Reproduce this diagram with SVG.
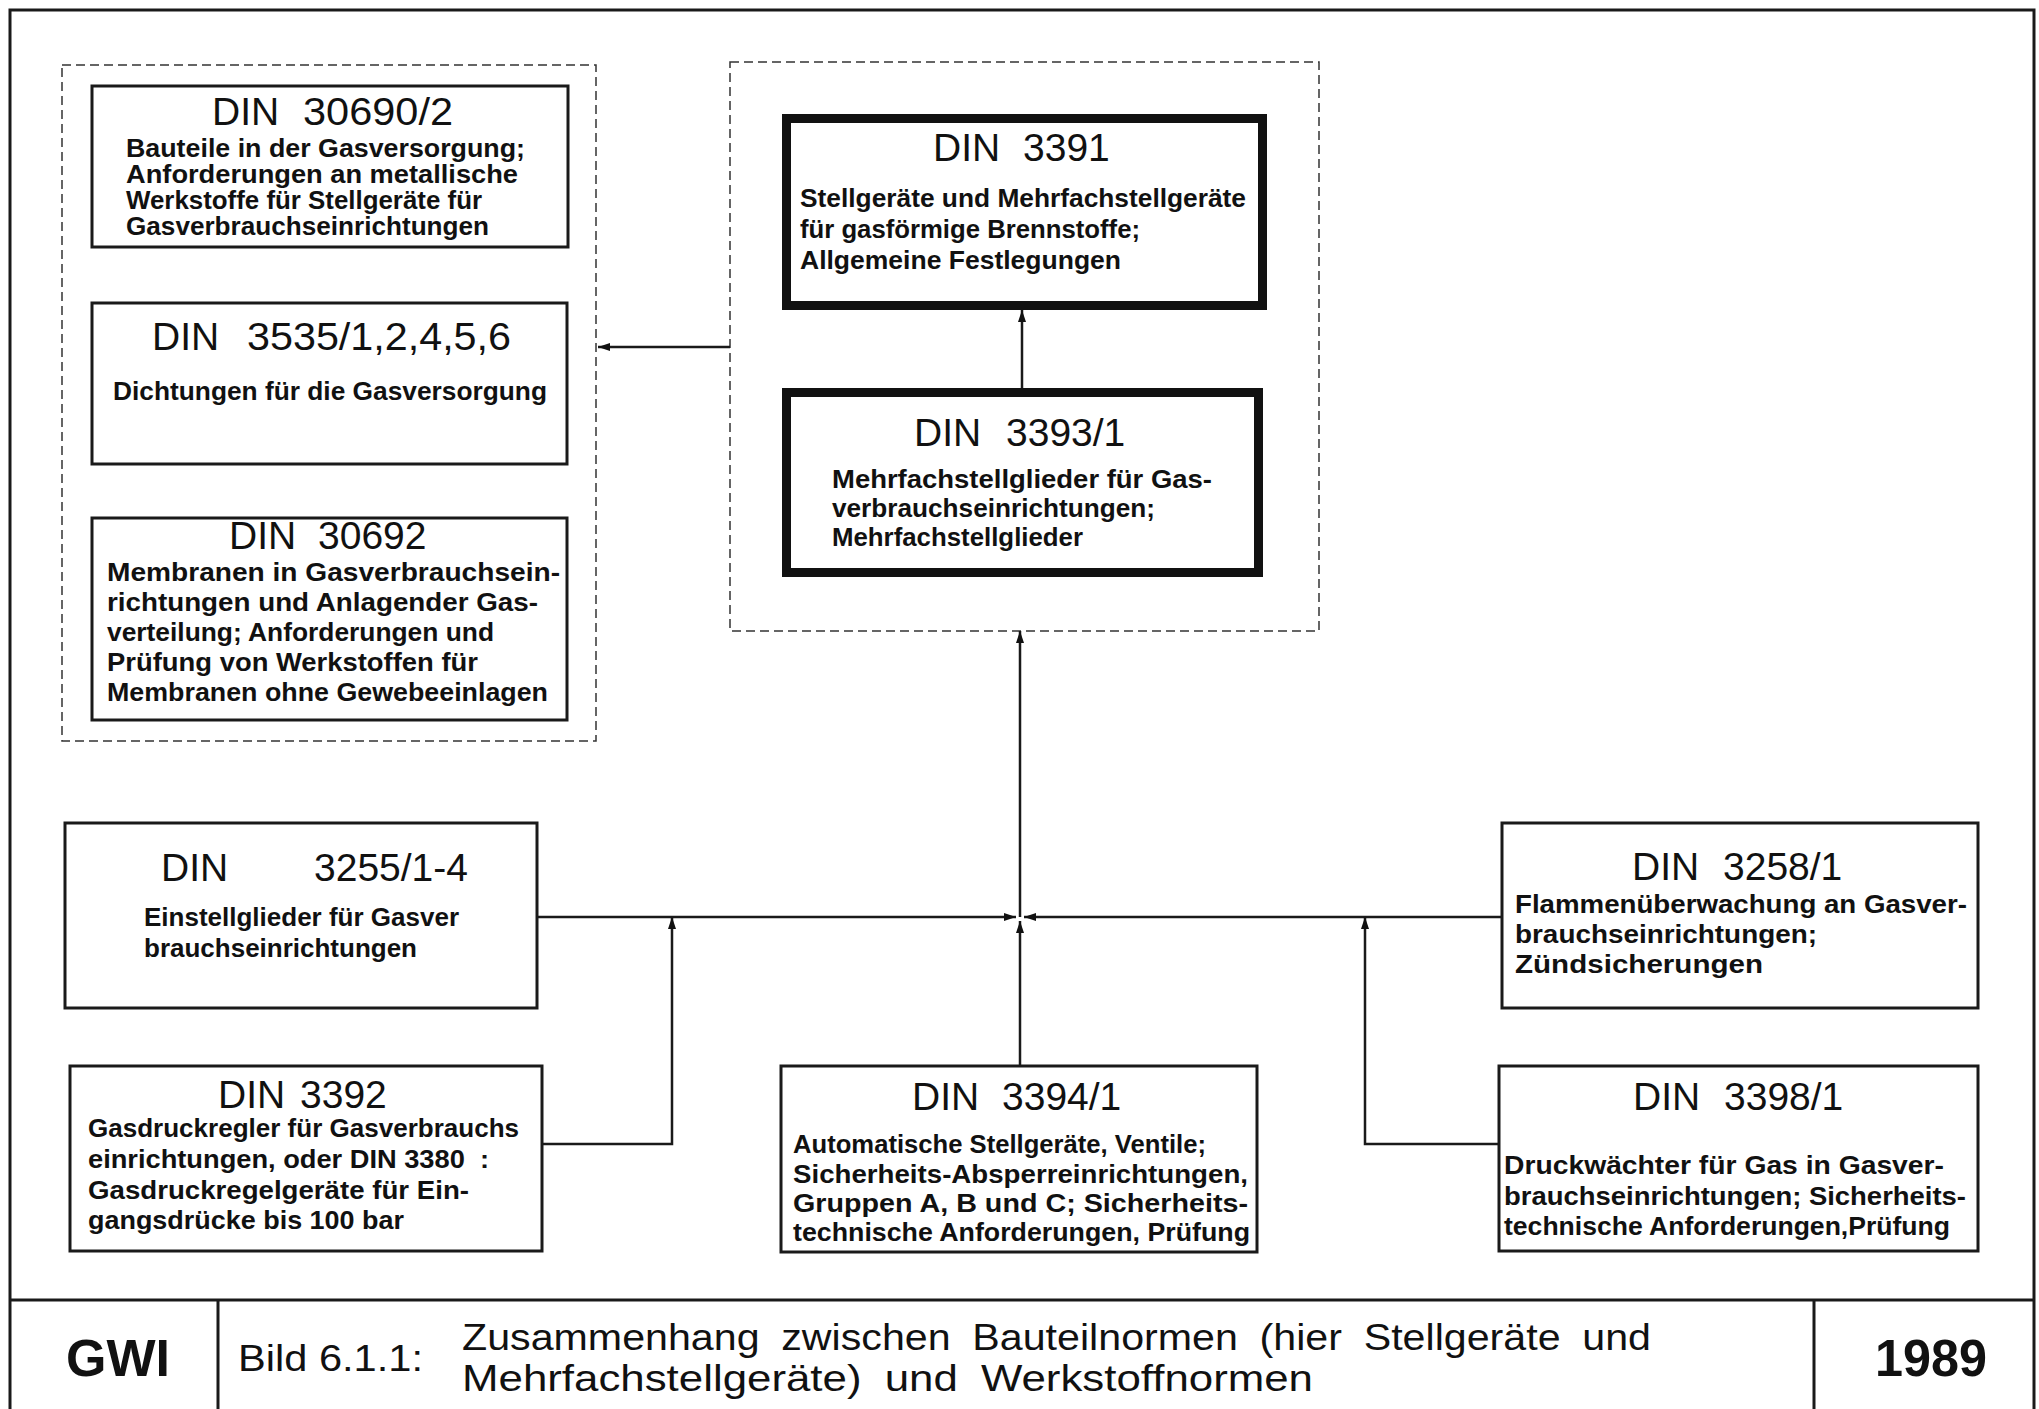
<svg xmlns="http://www.w3.org/2000/svg" width="2039" height="1409" viewBox="0 0 2039 1409">
<defs>
<style>
.frame{fill:none;stroke:#1a1a1a;stroke-width:3}
.box{fill:#fff;stroke:#1a1a1a;stroke-width:3}
.thick{fill:#fff;stroke:#111;stroke-width:9}
.grp{fill:none;stroke:#333;stroke-width:1.5;stroke-dasharray:9 5}
.con{fill:none;stroke:#1a1a1a;stroke-width:2.5}
.t{font-family:"Liberation Sans",Arial,sans-serif;font-size:39px;fill:#111}
.b{font-family:"Liberation Sans",Arial,sans-serif;font-weight:700;font-size:25px;fill:#111}
.b2{font-family:"Liberation Sans",Arial,sans-serif;font-weight:700;font-size:26px;fill:#111}
.cap{font-family:"Liberation Sans",Arial,sans-serif;font-size:36px;fill:#111}
.big{font-family:"Liberation Sans",Arial,sans-serif;font-weight:700;font-size:52px;fill:#111}
</style>
<marker id="ah" viewBox="0 0 12 8" refX="12" refY="4" markerWidth="12" markerHeight="8" markerUnits="userSpaceOnUse" orient="auto">
<path d="M0,0 L12,4 L0,8 Z" fill="#111"/>
</marker>
</defs>
<rect width="2039" height="1409" fill="#fff"/>

<g id="frame">
<path class="frame" d="M10,1409 V10 H2034 V1409"/>
<path class="frame" d="M10,1300 H2034 M218,1300 V1409 M1814,1300 V1409"/>
</g>

<g id="footer">
<text class="big" x="66" y="1376" textLength="104" lengthAdjust="spacingAndGlyphs">GWI</text>
<text class="cap" x="238" y="1371" textLength="185" lengthAdjust="spacingAndGlyphs">Bild 6.1.1:</text>
<text class="cap" x="462" y="1350" word-spacing="9" textLength="1189" lengthAdjust="spacingAndGlyphs">Zusammenhang zwischen Bauteilnormen (hier Stellgeräte und</text>
<text class="cap" x="462" y="1391" word-spacing="9" textLength="851" lengthAdjust="spacingAndGlyphs">Mehrfachstellgeräte) und Werkstoffnormen</text>
<text class="big" x="1875" y="1376" textLength="112" lengthAdjust="spacingAndGlyphs">1989</text>
</g>

<g id="group-werkstoffnormen">
<rect class="grp" x="62" y="65" width="534" height="676"/>
</g>
<g id="group-bauteilnormen">
<rect class="grp" x="730" y="62" width="589" height="569"/>
</g>

<g id="connectors">
<path class="con" d="M730,347 H598" marker-end="url(#ah)"/>
<path class="con" d="M1022,388 V310" marker-end="url(#ah)"/>
<path class="con" d="M1020,917 V631" marker-end="url(#ah)"/>
<path class="con" d="M537,917 H1016" marker-end="url(#ah)"/>
<path class="con" d="M1502,917 H1024" marker-end="url(#ah)"/>
<path class="con" d="M1020,1066 V921" marker-end="url(#ah)"/>
<path class="con" d="M542,1144 H672 V917" marker-end="url(#ah)"/>
<path class="con" d="M1499,1144 H1365 V917" marker-end="url(#ah)"/>
</g>

<g id="din30690-2">
<rect class="box" x="92" y="86" width="476" height="161"/>
<text class="t" x="212" y="125">DIN <tspan x="303" textLength="150" lengthAdjust="spacingAndGlyphs">30690/2</tspan></text>
<text class="b" x="126" y="157" textLength="399" lengthAdjust="spacingAndGlyphs">Bauteile in der Gasversorgung;</text>
<text class="b" x="126" y="183" textLength="392" lengthAdjust="spacingAndGlyphs">Anforderungen an metallische</text>
<text class="b" x="126" y="209" textLength="356" lengthAdjust="spacingAndGlyphs">Werkstoffe für Stellgeräte für</text>
<text class="b" x="126" y="235" textLength="363" lengthAdjust="spacingAndGlyphs">Gasverbrauchseinrichtungen</text>
</g>

<g id="din3535">
<rect class="box" x="92" y="303" width="475" height="161"/>
<text class="t" x="152" y="350">DIN <tspan x="247" textLength="264" lengthAdjust="spacingAndGlyphs">3535/1,2,4,5,6</tspan></text>
<text class="b2" x="113" y="400" textLength="434" lengthAdjust="spacingAndGlyphs">Dichtungen für die Gasversorgung</text>
</g>

<g id="din30692">
<rect class="box" x="92" y="518" width="475" height="202"/>
<text class="t" x="229" y="549">DIN <tspan x="318">30692</tspan></text>
<text class="b2" x="107" y="581" textLength="453" lengthAdjust="spacingAndGlyphs">Membranen in Gasverbrauchsein-</text>
<text class="b2" x="107" y="611" textLength="431" lengthAdjust="spacingAndGlyphs">richtungen und Anlagender Gas-</text>
<text class="b2" x="107" y="641" textLength="387" lengthAdjust="spacingAndGlyphs">verteilung; Anforderungen und</text>
<text class="b2" x="107" y="671" textLength="371" lengthAdjust="spacingAndGlyphs">Prüfung von Werkstoffen für</text>
<text class="b2" x="107" y="701" textLength="441" lengthAdjust="spacingAndGlyphs">Membranen ohne Gewebeeinlagen</text>
</g>

<g id="din3391">
<rect class="thick" x="786.5" y="118.5" width="476" height="187"/>
<text class="t" x="933" y="161">DIN <tspan x="1023">3391</tspan></text>
<text class="b2" x="800" y="207" textLength="446" lengthAdjust="spacingAndGlyphs">Stellgeräte und Mehrfachstellgeräte</text>
<text class="b2" x="800" y="238" textLength="340" lengthAdjust="spacingAndGlyphs">für gasförmige Brennstoffe;</text>
<text class="b2" x="800" y="269" textLength="321" lengthAdjust="spacingAndGlyphs">Allgemeine Festlegungen</text>
</g>

<g id="din3393-1">
<rect class="thick" x="786.5" y="392.5" width="472" height="180"/>
<text class="t" x="914" y="446">DIN <tspan x="1006">3393/1</tspan></text>
<text class="b2" x="832" y="488" textLength="380" lengthAdjust="spacingAndGlyphs">Mehrfachstellglieder für Gas-</text>
<text class="b2" x="832" y="517" textLength="323" lengthAdjust="spacingAndGlyphs">verbrauchseinrichtungen;</text>
<text class="b2" x="832" y="546" textLength="251" lengthAdjust="spacingAndGlyphs">Mehrfachstellglieder</text>
</g>

<g id="din3255">
<rect class="box" x="65" y="823" width="472" height="185"/>
<text class="t" x="161" y="881">DIN <tspan x="314">3255/1-4</tspan></text>
<text class="b2" x="144" y="926" textLength="315" lengthAdjust="spacingAndGlyphs">Einstellglieder für Gasver</text>
<text class="b2" x="144" y="957" textLength="273" lengthAdjust="spacingAndGlyphs">brauchseinrichtungen</text>
</g>

<g id="din3392">
<rect class="box" x="70" y="1066" width="472" height="185"/>
<text class="t" x="218" y="1108">DIN <tspan x="300">3392</tspan></text>
<text class="b2" x="88" y="1137" textLength="431" lengthAdjust="spacingAndGlyphs">Gasdruckregler für Gasverbrauchs</text>
<text class="b2" x="88" y="1168" textLength="401" lengthAdjust="spacingAndGlyphs" xml:space="preserve">einrichtungen, oder DIN 3380  :</text>
<text class="b2" x="88" y="1199" textLength="381" lengthAdjust="spacingAndGlyphs">Gasdruckregelgeräte für Ein-</text>
<text class="b2" x="88" y="1229" textLength="316" lengthAdjust="spacingAndGlyphs">gangsdrücke bis 100 bar</text>
</g>

<g id="din3394-1">
<rect class="box" x="781" y="1066" width="476" height="186"/>
<text class="t" x="912" y="1110">DIN <tspan x="1002">3394/1</tspan></text>
<text class="b2" x="793" y="1153" textLength="413" lengthAdjust="spacingAndGlyphs">Automatische Stellgeräte, Ventile;</text>
<text class="b2" x="793" y="1183" textLength="455" lengthAdjust="spacingAndGlyphs">Sicherheits-Absperreinrichtungen,</text>
<text class="b2" x="793" y="1212" textLength="455" lengthAdjust="spacingAndGlyphs">Gruppen A, B und C; Sicherheits-</text>
<text class="b2" x="793" y="1241" textLength="457" lengthAdjust="spacingAndGlyphs">technische Anforderungen, Prüfung</text>
</g>

<g id="din3258-1">
<rect class="box" x="1502" y="823" width="476" height="185"/>
<text class="t" x="1632" y="880">DIN <tspan x="1723">3258/1</tspan></text>
<text class="b2" x="1515" y="913" textLength="452" lengthAdjust="spacingAndGlyphs">Flammenüberwachung an Gasver-</text>
<text class="b2" x="1515" y="943" textLength="302" lengthAdjust="spacingAndGlyphs">brauchseinrichtungen;</text>
<text class="b2" x="1515" y="973" textLength="248" lengthAdjust="spacingAndGlyphs">Zündsicherungen</text>
</g>

<g id="din3398-1">
<rect class="box" x="1499" y="1066" width="479" height="185"/>
<text class="t" x="1633" y="1110">DIN <tspan x="1724">3398/1</tspan></text>
<text class="b2" x="1504" y="1174" textLength="440" lengthAdjust="spacingAndGlyphs">Druckwächter für Gas in Gasver-</text>
<text class="b2" x="1504" y="1205" textLength="462" lengthAdjust="spacingAndGlyphs">brauchseinrichtungen; Sicherheits-</text>
<text class="b2" x="1504" y="1235" textLength="446" lengthAdjust="spacingAndGlyphs">technische Anforderungen,Prüfung</text>
</g>
</svg>
